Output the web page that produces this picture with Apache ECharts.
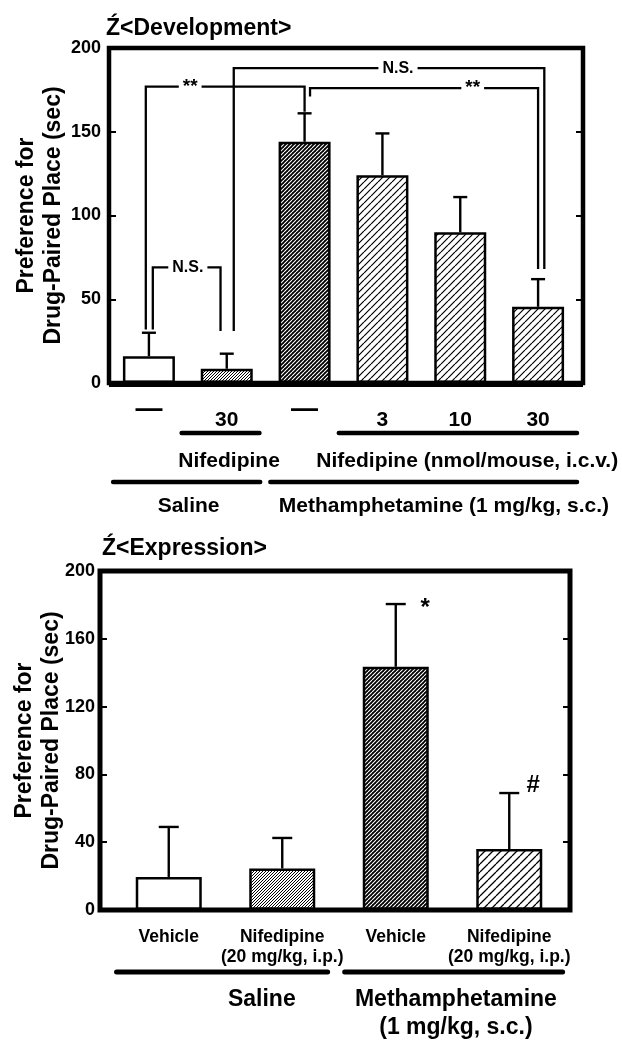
<!DOCTYPE html>
<html><head><meta charset="utf-8">
<script src="https://cdn.jsdelivr.net/npm/echarts@6/dist/echarts.min.js"></script>
<style>html,body{margin:0;padding:0;background:#fff}#c{width:622px;height:1041px}</style>
</head><body><div id="c"></div>
<script>
// ---------------- data ----------------
const devCategories = ['Saline', 'Saline + Nifedipine 30', 'Methamphetamine', 'Methamphetamine + Nifedipine 3', 'Methamphetamine + Nifedipine 10', 'Methamphetamine + Nifedipine 30'];
const devDoseLabels = ['—', '30', '—', '3', '10', '30'];
const devMeans = [16, 8.5, 144, 124, 90, 45.5];
const devErrTop = [30, 17.5, 161, 149, 111, 62];
const devYTicks = {min: 0, max: 200, interval: 50};
const devBrackets = [
  {pts: [[0.05, 32], [0.05, 69], [0.92, 69], [0.92, 31]], text: 'N.S.', at: [0.5, 69]},
  {pts: [[-0.04, 32], [-0.04, 177], [2.0, 177], [2.0, 162]], text: '**', at: [0.53, 177]},
  {pts: [[1.09, 31], [1.09, 188], [5.08, 188], [5.08, 68]], text: 'N.S.', at: [3.2, 188]},
  {pts: [[2.07, 171], [2.07, 176], [5.0, 176], [5.0, 68]], text: '**', at: [4.16, 176]}
];
const devGroupLines = [[0.42, 1.42, 0], [2.44, 5.5, 0], [-0.46, 1.43, 1], [1.56, 5.5, 1]];
const devGroupTexts = [['Nifedipine', 1.03, 0], ['Nifedipine (nmol/mouse, i.c.v.)', 4.09, 0], ['Saline', 0.51, 1], ['Methamphetamine (1 mg/kg, s.c.)', 3.79, 1]];

const expCategories = ['Saline / Vehicle', 'Saline / Nifedipine', 'Methamphetamine / Vehicle', 'Methamphetamine / Nifedipine'];
const expTickLabels = ['Vehicle', 'Nifedipine\n(20 mg/kg, i.p.)', 'Vehicle', 'Nifedipine\n(20 mg/kg, i.p.)'];
const expMeans = [19.5, 24.5, 143.5, 36];
const expErrTop = [49, 42.5, 180.5, 69];
const expYTicks = {min: 0, max: 200, interval: 40};
const expMarks = [['*', 2.26, 178], ['#', 3.21, 73.5]];
const expGroupLines = [[-0.46, 1.4, 0], [1.55, 3.47, 0]];
const expGroupTexts = [['Saline', 0.82, 0], ['Methamphetamine\n(1 mg/kg, s.c.)', 2.53, 0]];

// ---------------- styles / layout ----------------
const FF = '"Liberation Sans", Arial, Helvetica, sans-serif';
function hatch(period, lw, fg, bg) {
  const c = document.createElement('canvas');
  c.width = c.height = period;
  const g = c.getContext('2d');
  g.fillStyle = bg; g.fillRect(0, 0, period, period);
  g.strokeStyle = fg; g.lineWidth = lw; g.beginPath();
  for (let k = -1; k <= 1; k++) { g.moveTo(k * period, period); g.lineTo(k * period + period, 0); }
  g.stroke();
  return {image: c, repeat: 'repeat'};
}
const FILL = {
  white: '#ffffff',
  dense: hatch(3, 1.0, '#000', '#fff'),
  dark: hatch(4, 1.1, '#fff', '#000'),
  sparse: hatch(7, 1.2, '#000', '#fff'),
  sparse2: hatch(8, 1.3, '#000', '#fff')
};
const devFills = ['white', 'dense', 'dark', 'sparse', 'sparse', 'sparse'];
const expFills = ['white', 'dense', 'dark', 'sparse2'];

const W = 622, H = 1041;
const TOPF = {L: 109, R: 583, T: 48, B: 383};       // frame (axes)
const TOPG = {L: 110, R: 577};                     // bar category area
const BOTF = {L: 100, R: 570, T: 571, B: 910};
const BOTG = {L: 112, R: 566};

const chart = echarts.init(document.getElementById('c'));

function errRender(capHalf) {
  return function (params, api) {
    const p0 = api.coord([api.value(0), api.value(1)]);
    const p1 = api.coord([api.value(0), api.value(2)]);
    const st = {stroke: '#000', lineWidth: 2.4};
    return {type: 'group', children: [
      {type: 'line', shape: {x1: p0[0], y1: p0[1], x2: p1[0], y2: p1[1]}, style: st},
      {type: 'line', shape: {x1: p1[0] - capHalf, y1: p1[1], x2: p1[0] + capHalf, y2: p1[1]}, style: st}
    ]};
  };
}
function txt(text, x, y, size, extra) {
  return {type: 'text', x: x, y: y, style: Object.assign({
    text: text, fill: '#000', fontFamily: FF, fontWeight: 'bold', fontSize: size,
    align: 'center', verticalAlign: 'middle'}, extra || {})};
}

function devAnnot(params, api) {
  const X = x => api.coord([x, 0])[0];
  const Y = v => api.coord([0, v])[1];
  const B = Y(0);
  const ch = [];
  devBrackets.forEach(b => {
    ch.push({type: 'polyline', shape: {points: b.pts.map(p => [X(p[0]), Y(p[1])])},
      style: {stroke: '#000', lineWidth: 2.3, fill: 'none'}});
    ch.push(txt(b.text, X(b.at[0]), Y(b.at[1]), b.text === '**' ? 19 : 16, {backgroundColor: '#fff', padding: [1, 4]}));
  });
  devDoseLabels.forEach((d, i) => { if (d === '—') ch.push(txt('—', X(i), B + 27, 27)); });
  const lineRows = [B + 50, B + 99], textRows = [B + 78, B + 123];
  devGroupLines.forEach(l => ch.push({type: 'line', shape: {x1: X(l[0]), y1: lineRows[l[2]], x2: X(l[1]), y2: lineRows[l[2]]},
    style: {stroke: '#000', lineWidth: 4.5, lineCap: 'round'}}));
  devGroupTexts.forEach(t => ch.push(txt(t[0], X(t[1]), textRows[t[2]], 21)));
  return {type: 'group', children: ch};
}
function expAnnot(params, api) {
  const X = x => api.coord([x, 0])[0];
  const Y = v => api.coord([0, v])[1];
  const B = Y(0);
  const ch = [];
  expMarks.forEach(m => ch.push(txt(m[0], X(m[1]), Y(m[2]), 24)));
  const lineRows = [B + 62], textRows = [B + 76];
  expGroupLines.forEach(l => ch.push({type: 'line', shape: {x1: X(l[0]), y1: lineRows[l[2]], x2: X(l[1]), y2: lineRows[l[2]]},
    style: {stroke: '#000', lineWidth: 5, lineCap: 'round'}}));
  expGroupTexts.forEach(t => ch.push(txt(t[0], X(t[1]), textRows[t[2]], 23, {verticalAlign: 'top', lineHeight: 28})));
  return {type: 'group', children: ch};
}

function yAx(grid, ticks, pos, withName, nameGap, labelMargin) {
  return {
    type: 'value', gridIndex: grid, position: pos,
    min: ticks.min, max: ticks.max, interval: ticks.interval,
    axisLine: {show: false, onZero: false}, splitLine: {show: false},
    axisTick: {show: true, inside: true, length: 7, lineStyle: {color: '#000', width: 2}},
    axisLabel: {show: withName, margin: labelMargin || 6, color: '#000', fontFamily: FF, fontWeight: 'bold', fontSize: 18},
    name: withName ? 'Preference for\nDrug-Paired Place (sec)' : '',
    nameLocation: 'middle', nameGap: nameGap, nameMoveOverlap: false,
    nameTextStyle: {color: '#000', fontFamily: FF, fontWeight: 'bold', fontSize: 23, lineHeight: 27}
  };
}
function hiddenY(grid, ticks) {
  return {type: 'value', gridIndex: grid, min: ticks.min, max: ticks.max, interval: ticks.interval, show: false};
}
function gridBox(l, r, t, b) {
  return {left: l, right: W - r, top: t, bottom: H - b, containLabel: false, outerBoundsMode: 'none'};
}
const titleStyle = {color: '#000', fontFamily: FF, fontWeight: 'bold', fontSize: 23};

const option = {
  animation: false,
  backgroundColor: '#fff',
  title: [
    {text: 'Ź<Development>', left: 106, top: 17, padding: 0, textStyle: titleStyle},
    {text: 'Ź<Expression>', left: 102, top: 537, padding: 0, textStyle: titleStyle}
  ],
  grid: [
    gridBox(TOPF.L, TOPF.R, TOPF.T, TOPF.B),   // 0 top frame axes
    gridBox(TOPG.L, TOPG.R, TOPF.T, TOPF.B),   // 1 top bars
    gridBox(BOTF.L, BOTF.R, BOTF.T, BOTF.B),   // 2 bottom frame axes
    gridBox(BOTG.L, BOTG.R, BOTF.T, BOTF.B)    // 3 bottom bars
  ],
  xAxis: [
    {type: 'value', gridIndex: 0, min: 0, max: 1, show: false},
    {type: 'category', gridIndex: 1, data: devCategories, axisLine: {show: false}, axisTick: {show: false},
      axisLabel: {interval: 0, margin: 27, color: '#000', fontFamily: FF, fontWeight: 'bold', fontSize: 21,
        formatter: (v, i) => devDoseLabels[i] === '—' ? '' : devDoseLabels[i]}},
    {type: 'value', gridIndex: 1, min: -0.5, max: devCategories.length - 0.5, show: false},
    {type: 'value', gridIndex: 2, min: 0, max: 1, show: false},
    {type: 'category', gridIndex: 3, data: expCategories, axisLine: {show: false}, axisTick: {show: false},
      axisLabel: {interval: 0, margin: 17, color: '#000', fontFamily: FF, fontWeight: 'bold', fontSize: 17.5, lineHeight: 20,
        formatter: (v, i) => expTickLabels[i]}},
    {type: 'value', gridIndex: 3, min: -0.5, max: expCategories.length - 0.5, show: false}
  ],
  yAxis: [
    yAx(0, devYTicks, 'left', true, 42, 8),
    yAx(0, devYTicks, 'right', false, 0),
    hiddenY(1, devYTicks),
    yAx(2, expYTicks, 'left', true, 35, 5),
    yAx(2, expYTicks, 'right', false, 0),
    hiddenY(3, expYTicks)
  ],
  graphic: [
    {type: 'rect', z: 50, shape: {x: TOPF.L, y: TOPF.T, width: TOPF.R - TOPF.L, height: TOPF.B - TOPF.T},
      style: {fill: 'none', stroke: '#000', lineWidth: 4.5}},
    {type: 'line', z: 50, shape: {x1: TOPF.L, y1: TOPF.B + 1, x2: TOPF.R, y2: TOPF.B + 1},
      style: {stroke: '#000', lineWidth: 6}},
    {type: 'rect', z: 50, shape: {x: BOTF.L, y: BOTF.T, width: BOTF.R - BOTF.L, height: BOTF.B - BOTF.T},
      style: {fill: 'none', stroke: '#000', lineWidth: 5}}
  ],
  series: [
    {type: 'bar', xAxisIndex: 1, yAxisIndex: 2, barWidth: 52,
      data: devMeans.map((v, i) => ({value: v, itemStyle: {color: FILL[devFills[i]]}})),
      itemStyle: {borderColor: '#000', borderWidth: 2.5}},
    {type: 'custom', xAxisIndex: 1, yAxisIndex: 2, z: 5, renderItem: errRender(7),
      encode: {x: 0, y: [1, 2]}, data: devMeans.map((m, i) => [i, m, devErrTop[i]])},
    {type: 'custom', xAxisIndex: 2, yAxisIndex: 2, z: 6, renderItem: devAnnot, data: [[0, 0]]},
    {type: 'bar', xAxisIndex: 4, yAxisIndex: 5, barWidth: 66,
      data: expMeans.map((v, i) => ({value: v, itemStyle: {color: FILL[expFills[i]]}})),
      itemStyle: {borderColor: '#000', borderWidth: 2.5}},
    {type: 'custom', xAxisIndex: 4, yAxisIndex: 5, z: 5, renderItem: errRender(10),
      encode: {x: 0, y: [1, 2]}, data: expMeans.map((m, i) => [i, m, expErrTop[i]])},
    {type: 'custom', xAxisIndex: 5, yAxisIndex: 5, z: 6, renderItem: expAnnot, data: [[0, 0]]}
  ]
};
chart.setOption(option);
</script>
</body></html>
